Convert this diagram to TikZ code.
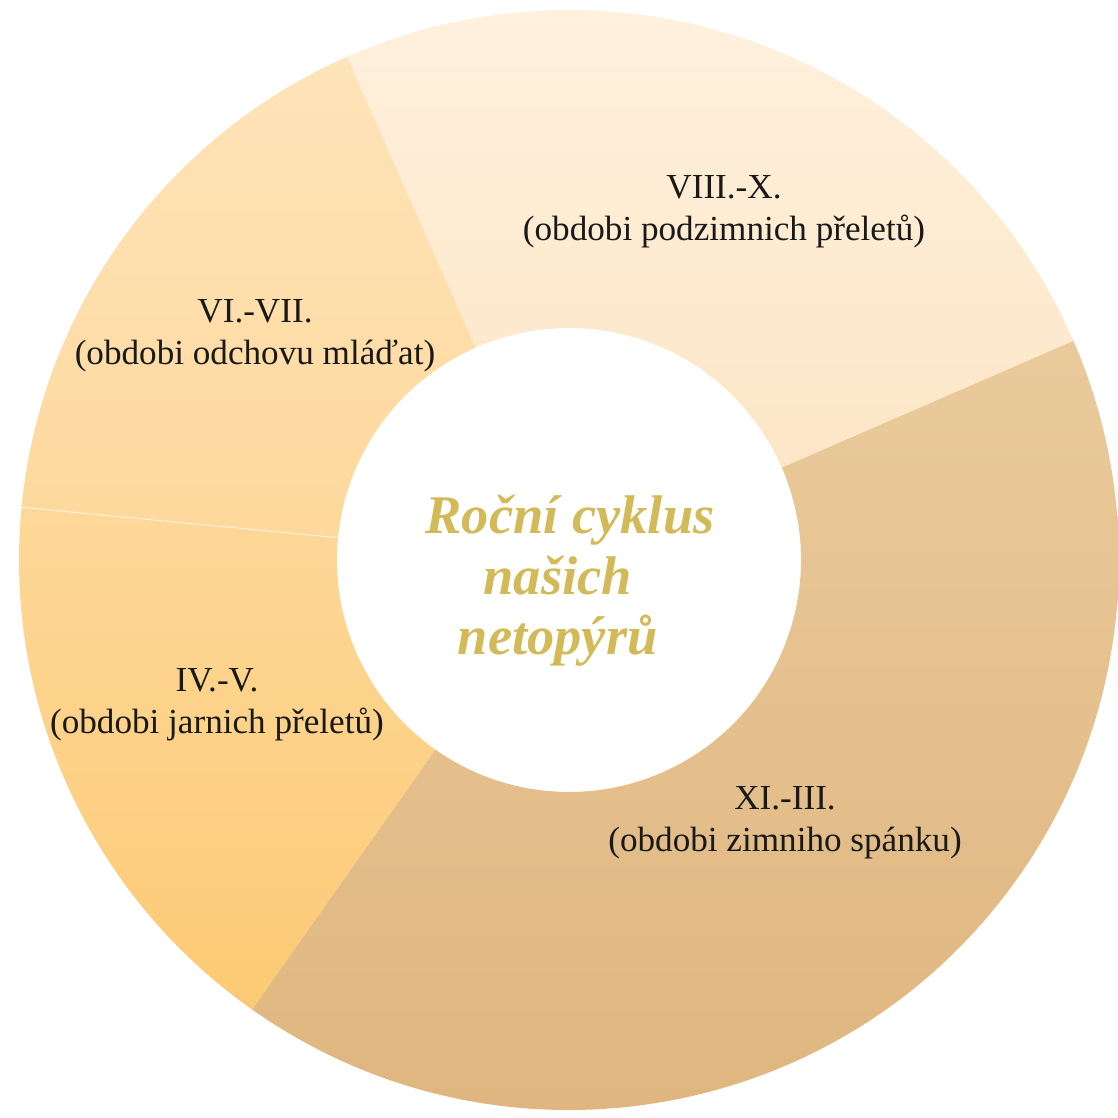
\documentclass[tikz,border=0pt]{standalone}
\usepackage{fontspec}
\setmainfont{Liberation Serif}
\usepackage{tikz}
\usepackage{xcolor}
\definecolor{autumn-top}{HTML}{FEF1DE}
\definecolor{autumn-bottom}{HTML}{FDE6C6}
\definecolor{winter-top}{HTML}{EACA9C}
\definecolor{winter-bottom}{HTML}{DEB47C}
\definecolor{breeding-top}{HTML}{FEE4BA}
\definecolor{breeding-bottom}{HTML}{FED89C}
\definecolor{spring-top}{HTML}{FED899}
\definecolor{spring-bottom}{HTML}{FCCA74}
\definecolor{title-gold}{HTML}{D3BA58}
\tikzset{
    autumn-fill/.style = {top color=autumn-top, bottom color=autumn-bottom},
    winter-fill/.style = {top color=winter-top, bottom color=winter-bottom},
    breeding-fill/.style = {top color=breeding-top, bottom color=breeding-bottom},
    spring-fill/.style = {top color=spring-top, bottom color=spring-bottom},
    season-label/.style = {align=center, text=black!90, inner sep=0pt, font=\fontsize{10}{12}\selectfont},
    cycle-title/.style = {align=center, text=title-gold, inner sep=0pt, font=\fontsize{15.5}{17.2}\selectfont\bfseries\itshape},
}
\newcommand{\ringsector}[3]{% style, start angle, end angle
    \shade[#1] (#2:5.5) arc[start angle=#2, end angle=#3, radius=5.5]
        -- (#3:2.32) arc[start angle=#3, end angle=#2, radius=2.32] -- cycle;
}

\begin{document}
\begin{tikzpicture}
\useasboundingbox (0,0) rectangle (11.17,11.18);
\begin{scope}[shift={(5.69,5.58)}]
    \ringsector{winter-fill}{-125.2}{23.5}
    \ringsector{autumn-fill}{23.5}{113.8}
    \ringsector{breeding-fill}{113.8}{174.5}
    \ringsector{spring-fill}{174.5}{234.8}
    \draw[white, opacity=0.6, line width=0.3pt] (174.5:2.32) -- (174.5:5.5);
\end{scope}
\node[season-label] (autumn) at (7.24,9.06) {VIII.-X.\\(obdobi podzimnich přeletů)};
\node[season-label] (breeding) at (2.55,7.82) {VI.-VII.\\(obdobi odchovu mláďat)};
\node[season-label] (spring) at (2.17,4.13) {IV.-V.\\(obdobi jarnich přeletů)};
\node[season-label] (winter) at (7.85,2.95) {XI.-III.\\(obdobi zimniho spánku)};
\node[cycle-title] (title) at (5.70,5.37) {Roční cyklus\\našich\rule{0.45em}{0pt}\\netopýrů\rule{0.45em}{0pt}};
\end{tikzpicture}
\end{document}
